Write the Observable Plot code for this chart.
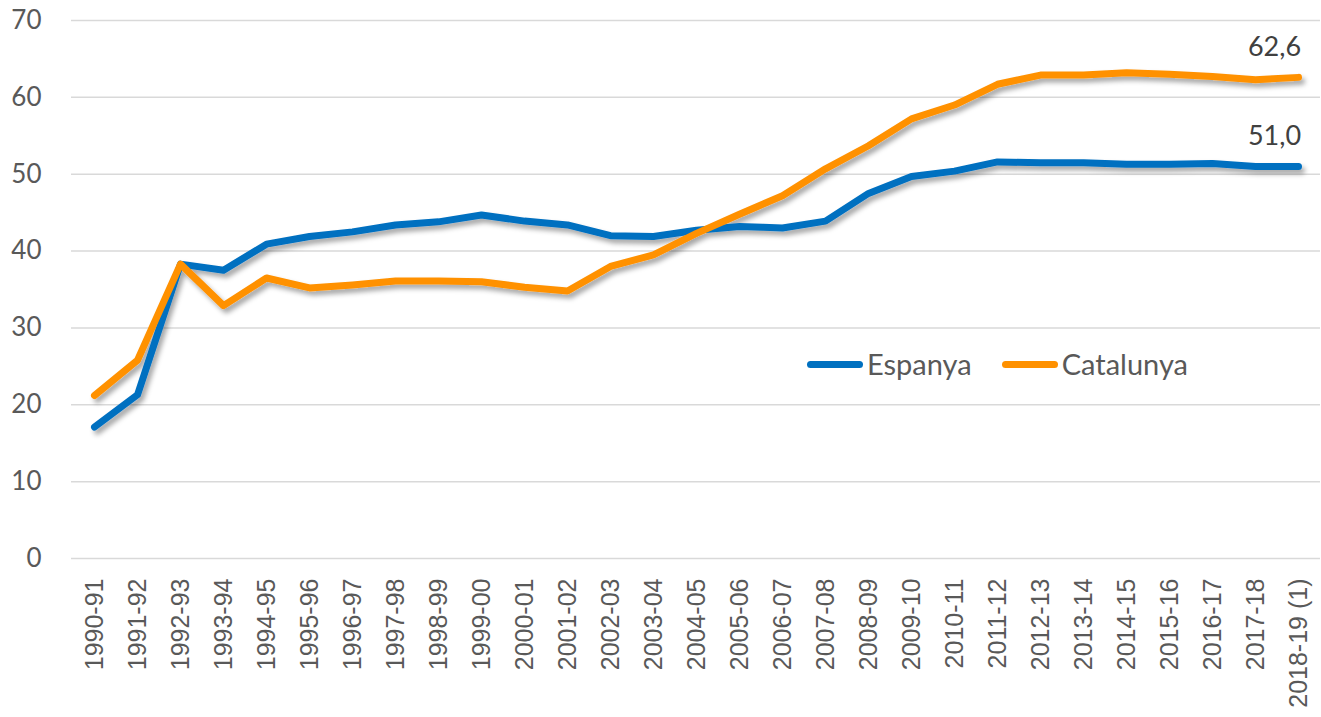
<!DOCTYPE html>
<html>
<head>
<meta charset="utf-8">
<script src="https://cdn.jsdelivr.net/npm/d3@7"></script>
<script src="https://cdn.jsdelivr.net/npm/@observablehq/plot@0.6"></script>
<style>
  html, body { margin: 0; padding: 0; background: #fff; }
  #wrap { position: relative; width: 1321px; height: 717px; overflow: hidden; }
  #legend { position: absolute; left: 807px; top: 346px; display: flex; align-items: center;
            font-family: Lato, "Open Sans", sans-serif; font-size: 29px; color: #595959; line-height: 36px; }
  .item { display: flex; align-items: center; margin-right: 30px; }
  .swatch { width: 56px; height: 7px; border-radius: 3.5px; margin-right: 4px; }
</style>
</head>
<body>
<div id="wrap"></div>
<script>
const categories = ["1990-91","1991-92","1992-93","1993-94","1994-95","1995-96","1996-97","1997-98","1998-99","1999-00","2000-01","2001-02","2002-03","2003-04","2004-05","2005-06","2006-07","2007-08","2008-09","2009-10","2010-11","2011-12","2012-13","2013-14","2014-15","2015-16","2016-17","2017-18","2018-19 (1)"];
const espanya = [17.1, 21.3, 38.3, 37.5, 40.9, 41.9, 42.5, 43.4, 43.8, 44.7, 43.9, 43.4, 42.0, 41.9, 42.7, 43.2, 43.0, 43.9, 47.5, 49.7, 50.4, 51.6, 51.5, 51.5, 51.3, 51.3, 51.4, 51.0, 51.0];
const catalunya = [21.2, 25.8, 38.3, 32.9, 36.5, 35.2, 35.6, 36.1, 36.1, 36.0, 35.3, 34.8, 38.0, 39.5, 42.3, 44.8, 47.2, 50.7, 53.7, 57.2, 59.0, 61.7, 62.9, 62.9, 63.2, 63.0, 62.7, 62.3, 62.6];
const seriesNames = ["Espanya", "Catalunya"];
const seriesColors = ["#0070C0", "#FF9100"];
const yTicks = [0, 10, 20, 30, 40, 50, 60, 70];

const rows = [];
categories.forEach((c, i) => {
  rows.push({cat: c, serie: seriesNames[0], v: espanya[i]});
  rows.push({cat: c, serie: seriesNames[1], v: catalunya[i]});
});
const last = rows.filter(d => d.cat === categories[categories.length - 1]);
const fmt = v => v.toFixed(1).replace(".", ",");

const chart = Plot.plot({
  width: 1321,
  height: 717,
  marginLeft: 71,
  marginRight: 1,
  marginTop: 20,
  marginBottom: 159,
  style: {fontFamily: "Lato, 'Open Sans', sans-serif", background: "#fff"},
  x: {type: "point", domain: categories, padding: 0.5},
  y: {domain: [0, 70]},
  color: {domain: seriesNames, range: seriesColors},
  marks: [
    Plot.ruleY(yTicks, {stroke: "#d9d9d9", strokeWidth: 1.5}),
    Plot.axisY({ticks: yTicks, tickSize: 0, tickPadding: 30, fontSize: 26, color: "#595959", label: null, fontFamily: "Lato, sans-serif"}),
    Plot.axisX({tickSize: 0, tickRotate: -90, tickPadding: 20, fontSize: 25, color: "#595959", label: null, fontFamily: "'Liberation Sans', Arial, sans-serif"}),
    Plot.line(rows, {x: "cat", y: "v", z: "serie", stroke: "serie", strokeWidth: 7, strokeLinejoin: "round", strokeLinecap: "round", className: "series-line"}),
    Plot.text(last, {x: "cat", y: "v", text: d => fmt(d.v), dx: -24, dy: -30, fontSize: 27, fill: "#404040", fontFamily: "Lato, sans-serif"})
  ]
});

// drop shadow for the lines
const svg = d3.select(chart);
const defs = svg.insert("defs", ":first-child");
const f = defs.append("filter").attr("id", "shadow").attr("x", "-5%").attr("y", "-5%").attr("width", "110%").attr("height", "120%");
f.append("feDropShadow").attr("dx", 3).attr("dy", 4).attr("stdDeviation", 2.5).attr("flood-color", "#000").attr("flood-opacity", 0.35);
svg.selectAll("g.series-line").attr("filter", "url(#shadow)");

const wrap = document.getElementById("wrap");
wrap.appendChild(chart);

const legend = document.createElement("div");
legend.id = "legend";
seriesNames.forEach((n, i) => {
  const it = document.createElement("div");
  it.className = "item";
  const sw = document.createElement("div");
  sw.className = "swatch";
  sw.style.background = seriesColors[i];
  const t = document.createElement("span");
  t.textContent = n;
  it.appendChild(sw); it.appendChild(t);
  legend.appendChild(it);
});
wrap.appendChild(legend);
</script>
</body>
</html>
